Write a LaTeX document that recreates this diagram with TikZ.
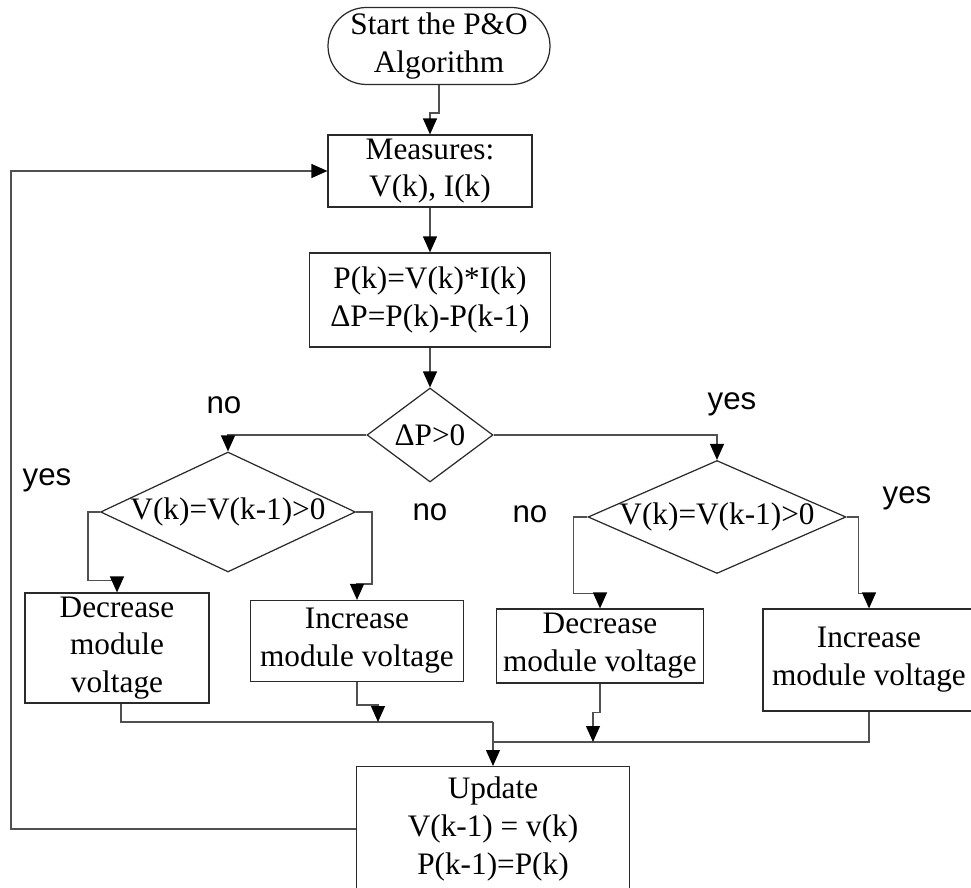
\documentclass[tikz,border=0pt]{standalone}
\usepackage{fontspec}
\setmainfont{Liberation Serif}
\setsansfont{Liberation Sans}
\usetikzlibrary{shapes.geometric,shapes.misc,arrows.meta,positioning,calc}
\definecolor{LN}{HTML}{2A2A2A}
\definecolor{FL}{HTML}{505050}

\tikzset{
  txt/.style={font=\fontsize{17.8}{21.5}\selectfont, align=center},
  procbox/.style={txt, draw=LN, line width=0.7pt, rectangle, inner sep=2pt},
  termbox/.style={txt, draw=LN, line width=0.7pt, rounded rectangle, inner sep=2pt},
  decide/.style={txt, draw=LN, line width=0.7pt, diamond, inner sep=0pt},
  flow/.style={draw=FL, line width=0.7pt,
               -{Triangle[length=0.32cm,width=0.28cm,color=black]}},
  line/.style={draw=FL, line width=0.7pt},
  ans/.style={font=\sffamily\fontsize{17.8}{20}\selectfont}
}

\begin{document}
\begin{tikzpicture}[x=0.02cm, y=-0.02cm]

        \useasboundingbox (0,0) rectangle (971,888);

        %% ── nodes ─────────────────────────────────────

        %% top of the chart
        \node[termbox, minimum width=4.38cm, minimum height=1.54cm]
          (start) at (439,46) {Start the P\&O\\Algorithm};
        \node[procbox, minimum width=4.08cm, minimum height=1.42cm]
          (meas) at (430,171) {Measures:\\V(k), I(k)};
        \node[procbox, minimum width=4.82cm, minimum height=1.88cm]
          (pcalc) at (430,300) {P(k)=V(k)*I(k)\\ΔP=P(k)-P(k-1)};

        %% decisions
        \node[decide, minimum width=2.52cm, minimum height=1.88cm]
          (dp) at (430,435) {ΔP>0};
        \node[decide, minimum width=5.10cm, minimum height=2.40cm,
              label={[txt]center:V(k)=V(k-1)>0}]
          (dl) at (228,512) {};
        \node[decide, minimum width=5.16cm, minimum height=2.26cm,
              label={[txt]center:V(k)=V(k-1)>0}]
          (dr) at (717,517) {};

        %% actions
        \node[procbox, minimum width=3.68cm, minimum height=2.20cm]
          (decL) at (117,648) {Decrease\\module\\voltage};
        \node[procbox, minimum width=4.26cm, minimum height=1.62cm]
          (incL) at (357,641) {Increase\\module voltage};
        \node[procbox, minimum width=4.14cm, minimum height=1.48cm]
          (decR) at (600,646) {Decrease\\module voltage};
        \node[procbox, minimum width=4.24cm, minimum height=2.04cm]
          (incR) at (869,660) {Increase\\module voltage};

        %% update
        \node[procbox, anchor=north, minimum width=5.46cm, inner ysep=6pt]
          (upd) at (493,766) {Update\\V(k-1) = v(k)\\P(k-1)=P(k)};

        %% branch answers
        \node[ans] (n1) at (224,405) {no};
        \node[ans] (y1) at (732,404) {yes};
        \node[ans] (y2) at (47,480) {yes};
        \node[ans] (n2) at (430,512) {no};
        \node[ans] (n3) at (530,514) {no};
        \node[ans] (y3) at (907,498) {yes};

        %% ── connectors ────────────────────────────────

        \draw[flow] (start.south) -- ++(0,28) -| (meas.north);
        \draw[flow] (meas.south) -- (pcalc.north);
        \draw[flow] (pcalc.south) -- (dp.north);
        \draw[flow] (dp.west) -| (dl.north);
        \draw[flow] (dp.east) -| (dr.north);

        \draw[flow] (dl.west) -- ++(-12,0) |- ($(decL.north)+(0,-12)$) -- (decL.north);
        \draw[flow] (dl.east) -- ++(16,0) |- ($(incL.north)+(0,-16)$) -- (incL.north);
        \draw[flow] (dr.west) -- ++(-14,0) |- ($(decR.north)+(0,-15)$) -- (decR.north);
        \draw[flow] (dr.east) -- ++(12,0) |- ($(incR.north)+(0,-15)$) -- (incR.north);

        %% merge into update
        \coordinate (m1) at ($(upd.north)+(0,-44)$);
        \coordinate (m2) at ($(upd.north)+(0,-24)$);
        \coordinate (j1) at (378,722);
        \coordinate (j2) at (593,742);

        \draw[line] ($(decL.south)+(4,0)$) |- (m1);
        \draw[flow] (m1) -- (upd.north);
        \draw[flow] (incL.south) -- ++(0,23) -| (j1);
        \draw[line] (incR.south) |- (m2);
        \draw[flow] (decR.south) -- ++(0,29) -| (j2);

        %% back to measuring
        \draw[flow] (upd.west) -- ++(-345,0) |- (meas.west);

\end{tikzpicture}
\end{document}
